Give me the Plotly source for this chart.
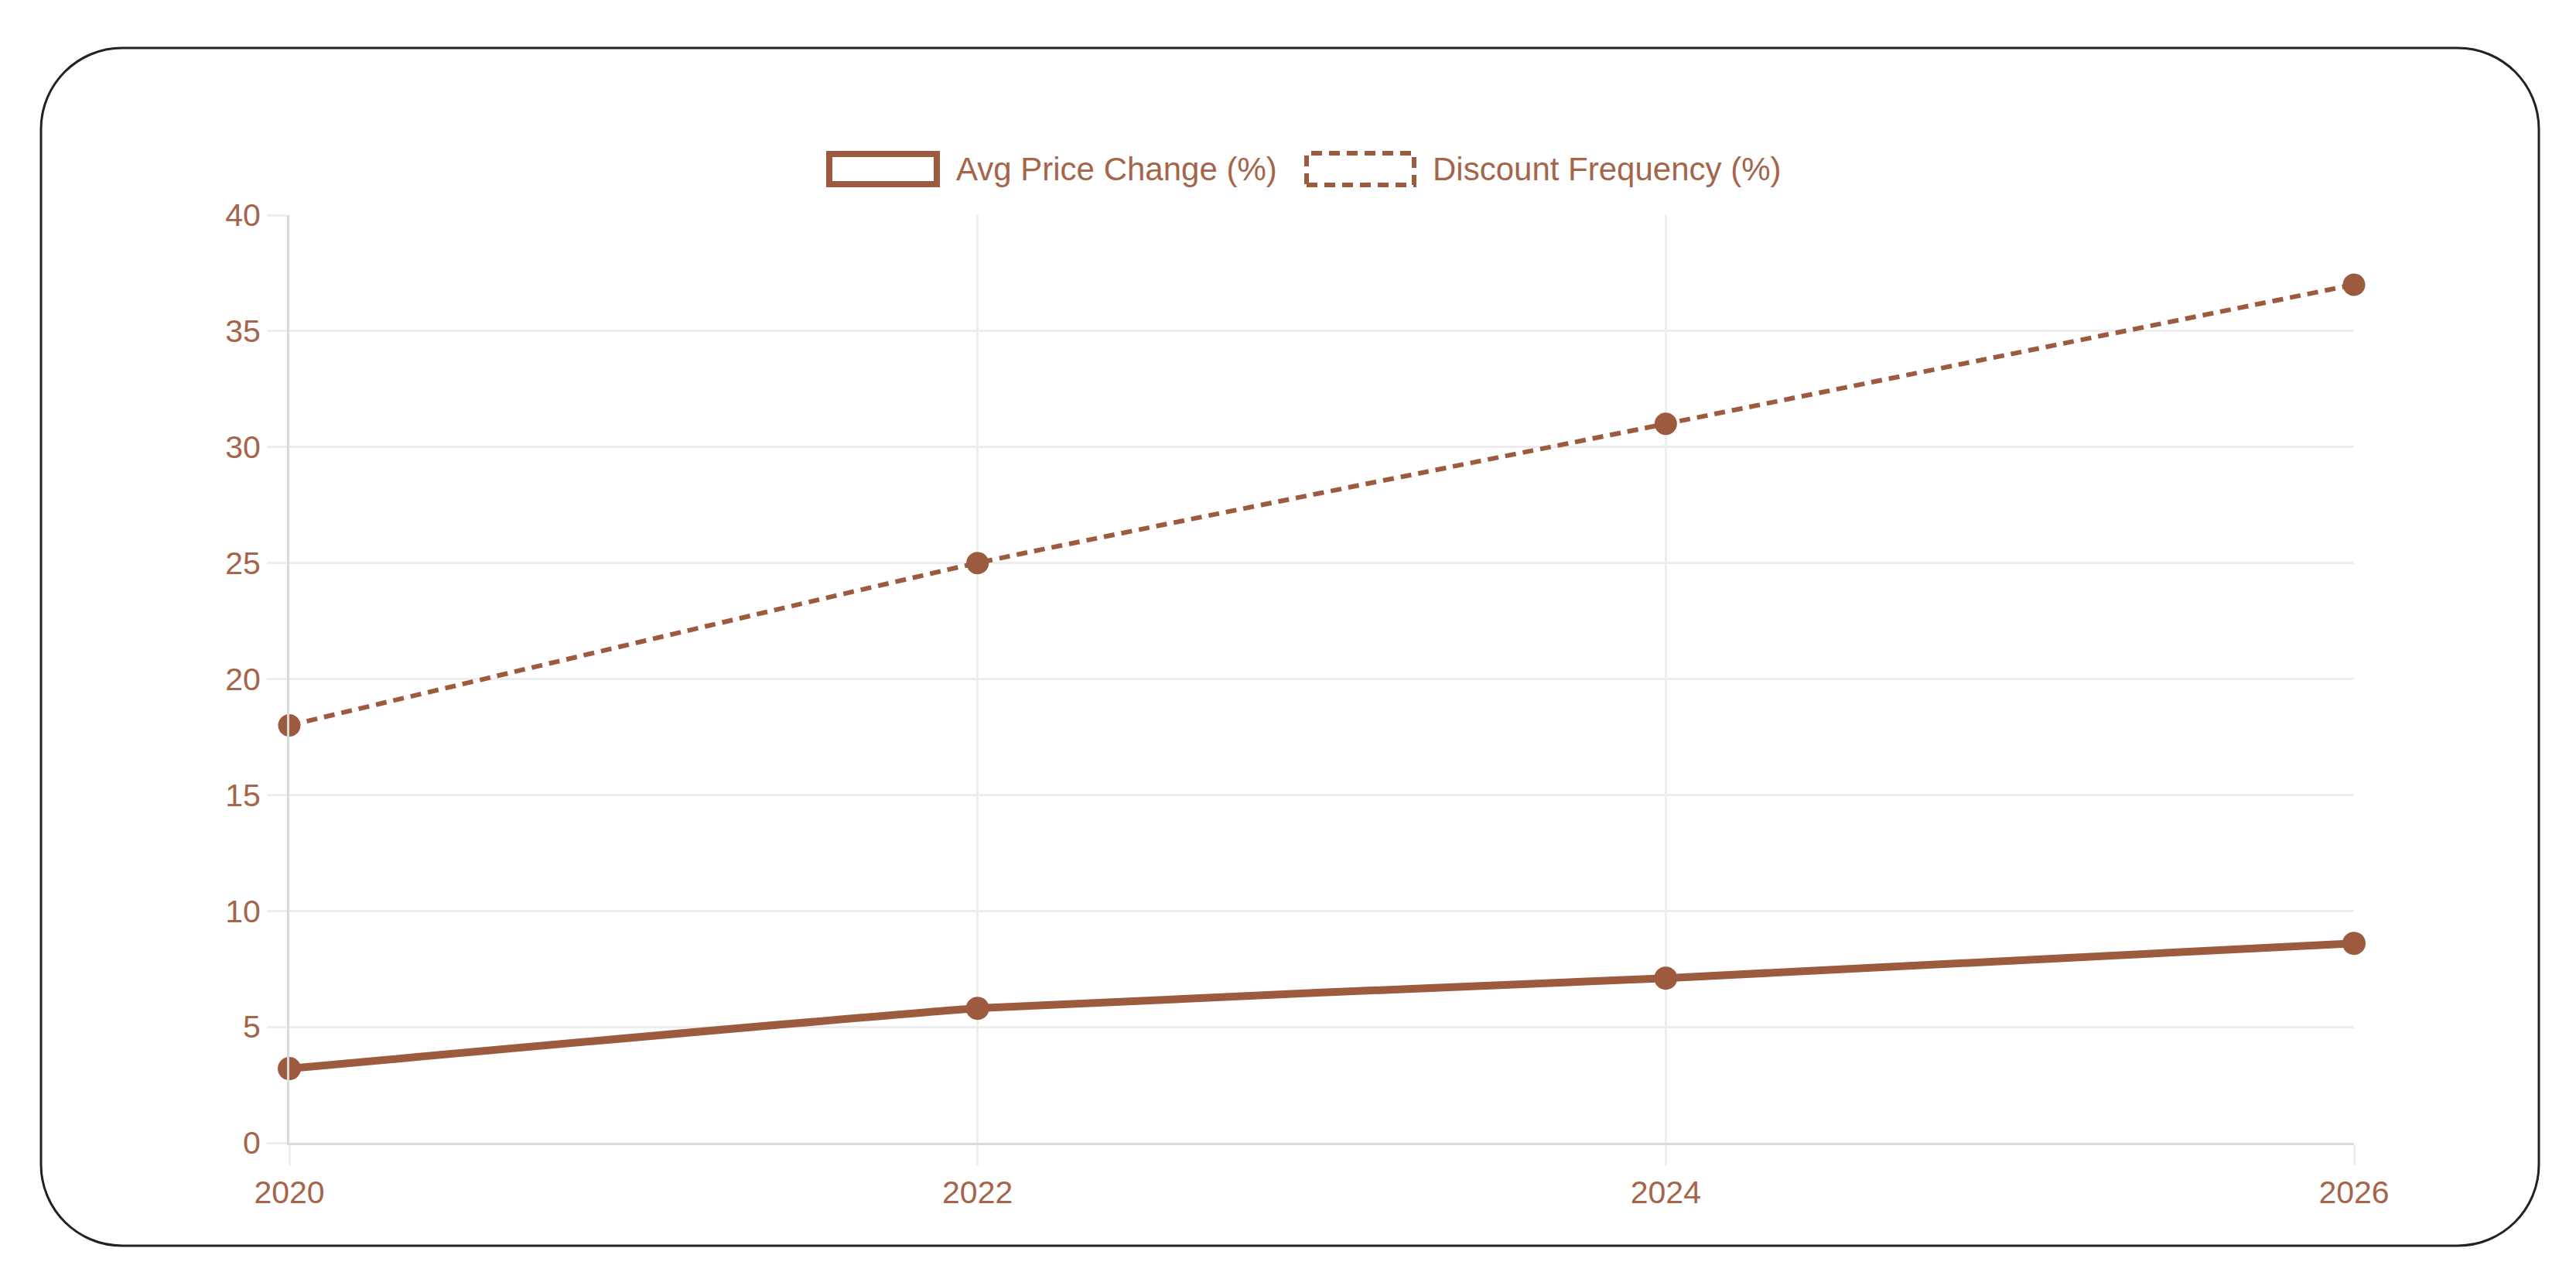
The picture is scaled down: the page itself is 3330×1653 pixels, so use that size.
import plotly.graph_objects as go

years = [2020, 2022, 2024, 2026]
avg_price_change = [3.2, 5.8, 7.1, 8.6]
discount_frequency = [18, 25, 31, 37]
series_names = ["Avg Price Change (%)", "Discount Frequency (%)"]
y_ticks = [0, 5, 10, 15, 20, 25, 30, 35, 40]

COLOR = "#9c5a3f"
TEXT = "#a4654a"
GRID = "#ededed"
FONT = "Liberation Sans, Arial, sans-serif"

W, H = 3330, 1653
L, R, T, B = 374, 3043, 278, 1477  # plot area in pixels


def px(x):
    return (x - L) / (R - L)


def py(y):
    return (B - y) / (B - T)


fig = go.Figure()
fig.add_trace(go.Scatter(
    x=years, y=discount_frequency, name=series_names[1], mode="lines+markers",
    line=dict(color=COLOR, width=6, dash="14px,9px", shape="spline", smoothing=0.4),
    marker=dict(color=COLOR, size=29), cliponaxis=False,
))
fig.add_trace(go.Scatter(
    x=years, y=avg_price_change, name=series_names[0], mode="lines+markers",
    line=dict(color=COLOR, width=10, shape="spline", smoothing=0.4),
    marker=dict(color=COLOR, size=30), cliponaxis=False,
))

shapes = []
# rounded outer border
x0, x1, y0, y1, r = 53, 3282, 62, 1610, 105
k = 0.5523 * r
pts = [
    ("M", [(x0 + r, y0)]),
    ("L", [(x1 - r, y0)]),
    ("C", [(x1 - r + k, y0), (x1, y0 + r - k), (x1, y0 + r)]),
    ("L", [(x1, y1 - r)]),
    ("C", [(x1, y1 - r + k), (x1 - r + k, y1), (x1 - r, y1)]),
    ("L", [(x0 + r, y1)]),
    ("C", [(x0 + r - k, y1), (x0, y1 - r + k), (x0, y1 - r)]),
    ("L", [(x0, y0 + r)]),
    ("C", [(x0, y0 + r - k), (x0 + r - k, y0), (x0 + r, y0)]),
]
path = ""
for cmd, ps in pts:
    path += cmd + " " + " ".join(f"{px(a):.6f},{py(b):.6f}" for a, b in ps) + " "
path += "Z"
shapes.append(dict(type="path", xref="paper", yref="paper", path=path,
                   line=dict(color="#222222", width=3), layer="below"))

# custom legend boxes
shapes.append(dict(type="rect", xref="paper", yref="paper",
                   x0=px(1072), x1=px(1211), y0=py(238), y1=py(199),
                   line=dict(color=COLOR, width=8), fillcolor="rgba(0,0,0,0)"))
shapes.append(dict(type="rect", xref="paper", yref="paper",
                   x0=px(1689), x1=px(1828), y0=py(239), y1=py(198),
                   line=dict(color=COLOR, width=6, dash="14px,9px"), fillcolor="rgba(0,0,0,0)"))

annotations = [
    dict(x=px(1234), y=py(219), xref="paper", yref="paper", text=series_names[0],
         showarrow=False, xanchor="left", yanchor="middle",
         font=dict(family=FONT, size=42, color=TEXT)),
    dict(x=px(1850), y=py(219), xref="paper", yref="paper", text=series_names[1],
         showarrow=False, xanchor="left", yanchor="middle",
         font=dict(family=FONT, size=42, color=TEXT)),
]

fig.update_layout(
    width=W, height=H,
    margin=dict(l=L, r=W - R, t=T, b=H - B, pad=0),
    paper_bgcolor="white", plot_bgcolor="white",
    showlegend=False,
    font=dict(family=FONT, size=41, color=TEXT),
    shapes=shapes, annotations=annotations,
)
fig.update_xaxes(
    range=[2020, 2026], tickvals=years, ticktext=[str(v) for v in years],
    showgrid=True, gridcolor=GRID, gridwidth=3,
    showline=True, linecolor="#dadada", linewidth=3,
    ticks="outside", ticklen=26, tickcolor=GRID, tickwidth=3,
    zeroline=False, tickfont=dict(family=FONT, size=41, color=TEXT),
)
fig.update_yaxes(
    range=[0, 40], tickvals=y_ticks,
    showgrid=True, gridcolor=GRID, gridwidth=3,
    showline=True, linecolor="#dadada", linewidth=3,
    ticks="outside", ticklen=26, tickcolor=GRID, tickwidth=3,
    zeroline=False, tickfont=dict(family=FONT, size=41, color=TEXT),
)

fig.write_html("out.html")
